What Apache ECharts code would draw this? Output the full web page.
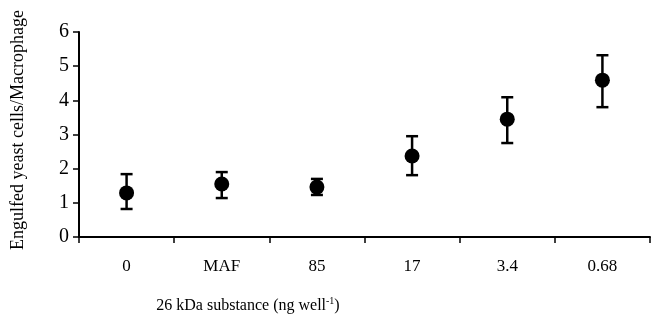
<!DOCTYPE html>
<html>
<head>
<meta charset="utf-8">
<script src="https://cdn.jsdelivr.net/npm/echarts@6/dist/echarts.min.js"></script>
<style>
  html, body { margin: 0; padding: 0; background: #fff; }
  #chart { width: 657px; height: 324px; }
</style>
</head>
<body>
<div id="chart"></div>
<script>
// concentrations of the 26 kDa substance
var categories = ['0', 'MAF', '85', '17', '3.4', '0.68']
// engulfed yeast cells per macrophage
var means = [1.29, 1.55, 1.46, 2.37, 3.45, 4.59]
var lower = [0.82, 1.14, 1.23, 1.81, 2.75, 3.80]
var upper = [1.84, 1.90, 1.70, 2.95, 4.09, 5.32]

var font = 'Liberation Serif, Times New Roman, serif'

var errData = categories.map(function (c, i) {
  return [i, lower[i], upper[i]]
})

var chart = echarts.init(document.getElementById('chart'))
chart.setOption({
  animation: false,
  grid: {
    left: 79,
    right: 7,
    top: 32,
    bottom: 87
  },
  xAxis: {
    type: 'category',
    data: categories,
    boundaryGap: true,
    axisLine: { lineStyle: { color: '#000', width: 2 } },
    axisTick: { show: true, length: 6, inside: false, lineStyle: { color: '#000', width: 1.5 } },
    axisLabel: { color: '#000', fontFamily: font, fontSize: 17, margin: 21 },
    splitLine: { show: false }
  },
  yAxis: {
    type: 'value',
    min: 0,
    max: 6,
    interval: 1,
    axisLine: { show: true, lineStyle: { color: '#000', width: 2 } },
    axisTick: { show: true, length: 6, lineStyle: { color: '#000', width: 1.5 } },
    axisLabel: { color: '#000', fontFamily: font, fontSize: 20, margin: 10 },
    splitLine: { show: false }
  },
  graphic: [{
    type: 'text',
    rotation: Math.PI / 2,
    x: 18,
    y: 130,
    style: {
      text: 'Engulfed yeast cells/Macrophage',
      font: '18px ' + font,
      fill: '#000',
      align: 'center',
      verticalAlign: 'middle'
    }
  }, {
    type: 'text',
    x: 248,
    y: 305,
    style: {
      text: '{a|26 kDa substance (ng well}{s|-1}{a|)}',
      rich: {
        a: { font: '16px ' + font, fill: '#000', verticalAlign: 'bottom' },
        s: { font: '10px ' + font, fill: '#000', verticalAlign: 'top', padding: [0, 0, 8, 0] }
      },
      align: 'center',
      verticalAlign: 'middle'
    }
  }],
  series: [{
    type: 'custom',
    data: errData,
    renderItem: function (params, api) {
      var x = api.value(0)
      var lo = api.coord([x, api.value(1)])
      var hi = api.coord([x, api.value(2)])
      var w = 6
      var ls = { stroke: '#000', lineWidth: 2.5 }
      return {
        type: 'group',
        children: [
          { type: 'line', shape: { x1: lo[0], y1: lo[1], x2: hi[0], y2: hi[1] }, style: ls },
          { type: 'line', shape: { x1: lo[0] - w, y1: lo[1], x2: lo[0] + w, y2: lo[1] }, style: ls },
          { type: 'line', shape: { x1: hi[0] - w, y1: hi[1], x2: hi[0] + w, y2: hi[1] }, style: ls }
        ]
      }
    },
    z: 2
  }, {
    type: 'scatter',
    data: means,
    symbol: 'circle',
    symbolSize: 15,
    itemStyle: { color: '#000', opacity: 1 },
    z: 3
  }]
})
</script>
</body>
</html>
